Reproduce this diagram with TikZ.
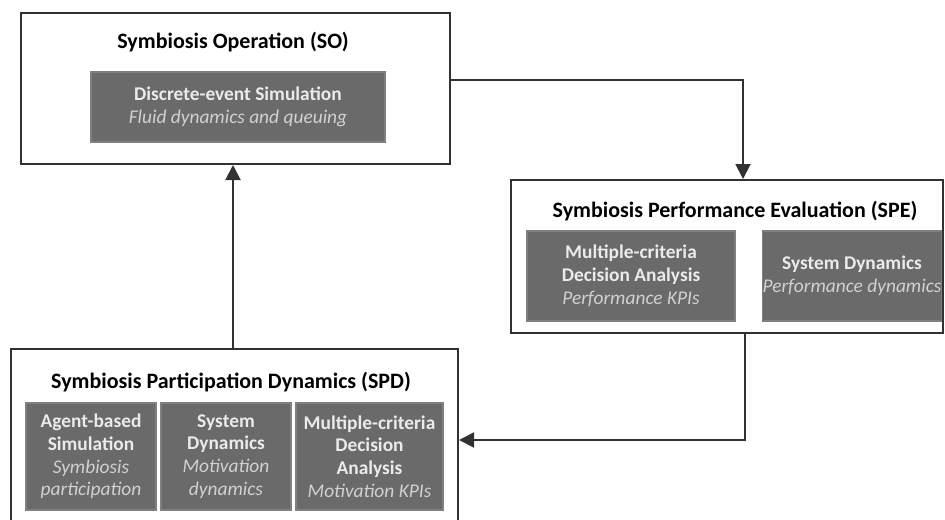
\documentclass[tikz,border=0pt]{standalone}
\usepackage{fontspec}
\setmainfont{Carlito}
\usetikzlibrary{arrows.meta, positioning}

\definecolor{boxgray}{RGB}{106,106,106}
\definecolor{framegray}{RGB}{50,50,50}

\begin{document}
\begin{tikzpicture}[x=0.5pt, y=-0.5pt,
    group/.style={draw=framegray, line width=1pt, fill=white, inner sep=0pt},
    grouptitle/.style={font=\fontsize{11}{13}\selectfont\bfseries, inner sep=0pt},
    method/.style={fill=boxgray, draw=boxgray!85!white, line width=0.6pt, text=white!92!black,
      align=center, inner sep=0pt, font=\fontsize{9.7}{11.4}\selectfont\bfseries},
    arr/.style={draw=framegray, line width=1pt, -{Triangle[length=7.5pt, width=7.5pt]}}
  ]
  \clip (0,0) rectangle (945,519);
  \fill[white] (0,0) rectangle (945,519);

  % groups
  \node[group, minimum width=214.5pt, minimum height=75.5pt] (so) at (235.5,88.5) {};
  \node[group, minimum width=216pt, minimum height=76.5pt] (spe) at (727,256.5) {};
  \node[group, minimum width=223.5pt, minimum height=95.5pt] (spd) at (234.5,444.5) {};

  \node[grouptitle] (sotitle) at (233,42) {Symbiosis Operation (SO)};
  \node[grouptitle] (spetitle) at (735,211) {Symbiosis Performance Evaluation (SPE)};
  \node[grouptitle] (spdtitle) at (231,382) {Symbiosis Participation Dynamics (SPD)};

  % methods
  \node[method, minimum width=147pt, minimum height=35pt] (des) at (238,107)
    {Discrete-event Simulation\\ \textmd{\textit{\color{white!82!black}Fluid dynamics and queuing}}};
  \node[method, minimum width=104pt, minimum height=45pt] (mcdaspe) at (631,276)
    {Multiple-criteria\\ Decision Analysis\\ \textmd{\textit{\color{white!82!black}Performance KPIs}}};
  \node[method, minimum width=89pt, minimum height=45pt] (sdspe) at (852,276)
    {System Dynamics\\ \textmd{\textit{\color{white!82!black}Performance dynamics}}};
  \node[method, minimum width=65pt, minimum height=53.5pt] (abs) at (91,456.5)
    {Agent-based\\ Simulation\\ \textmd{\textit{\color{white!82!black}Symbiosis}}\\ \textmd{\textit{\color{white!82!black}participation}}};
  \node[method, minimum width=65pt, minimum height=53.5pt] (sdspd) at (226,456.5)
    {System\\ Dynamics\\ \textmd{\textit{\color{white!82!black}Motivation}}\\ \textmd{\textit{\color{white!82!black}dynamics}}};
  \node[method, minimum width=73.5pt, minimum height=53.5pt] (mcdaspd) at (369.5,456.5)
    {Multiple-criteria\\ Decision\\ Analysis\\ \textmd{\textit{\color{white!82!black}Motivation KPIs}}};

  % flows
  \draw[arr] (so.east |- 0,80) -| ([xshift=8pt]spe.north);
  \draw[arr] ([xshift=9pt]spe.south) |- (spd.east |- 0,440);
  \draw[arr] ([xshift=-0.75pt]spd.north) -- ([xshift=-0.75pt]spd.north |- so.south);
\end{tikzpicture}
\end{document}
